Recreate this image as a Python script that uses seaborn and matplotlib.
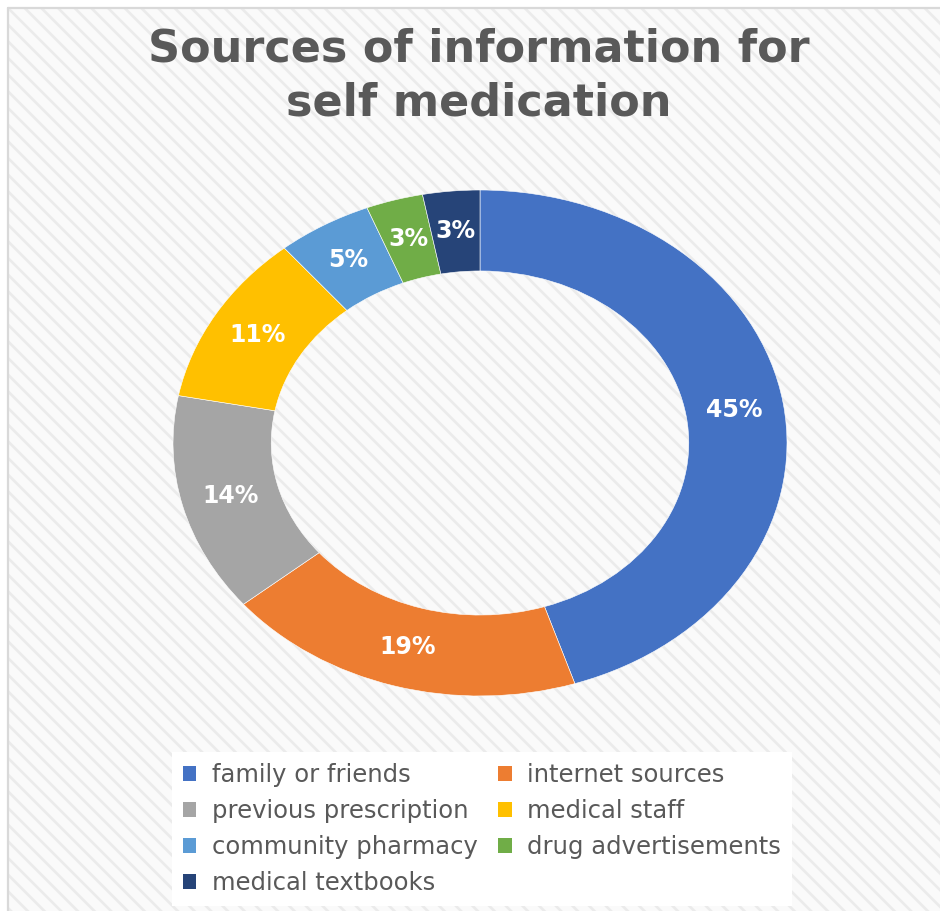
import matplotlib
matplotlib.use("Agg")
import matplotlib.pyplot as plt
from matplotlib.patches import Rectangle, Patch
from matplotlib.lines import Line2D
import seaborn as sns

# Data
sources = ["family or friends", "internet sources", "previous prescription",
           "medical staff", "community pharmacy", "drug advertisements",
           "medical textbooks"]
shares = [45, 19, 14, 11, 5, 3, 3]
slice_colors = ["#4472C4", "#ED7D31", "#A5A5A5", "#FFC000",
                "#5B9BD5", "#70AD47", "#264478"]
title = "Sources of information for\nself medication"

sns.set_theme(style="white")
plt.rcParams["font.family"] = ["DejaVu Sans"]
plt.rcParams["hatch.linewidth"] = 1.9

W, H = 940, 911
fig = plt.figure(figsize=(W / 100, H / 100), dpi=100, facecolor="white")

# Striped chart-area background with a light border on the top/left edges
bx, by = 8 / W, 8 / H
bg = Rectangle((bx, 0), 1 - bx, 1 - by, transform=fig.transFigure,
               facecolor="#fafafa", edgecolor="#ebebeb", hatch="\\\\",
               linewidth=0, zorder=-10)
fig.patches.append(bg)
fig.lines.append(Line2D([bx, bx], [0, 1 - by], transform=fig.transFigure,
                        color="#d9d9d9", linewidth=1.6, zorder=-9))
fig.lines.append(Line2D([bx, 1], [1 - by, 1 - by], transform=fig.transFigure,
                        color="#d9d9d9", linewidth=1.6, zorder=-9))

# Donut
cx, cy, rx, ry = 480, 443, 307, 253
ax = fig.add_axes([(cx - rx) / W, (H - (cy + ry)) / H, 2 * rx / W, 2 * ry / H],
                  zorder=1)
ax.patch.set_alpha(0)
palette = sns.color_palette(slice_colors)
wedges, _, autotexts = ax.pie(
    shares, colors=palette, startangle=90, counterclock=False, radius=1,
    autopct=lambda p: f"{p:.0f}%", pctdistance=0.84,
    wedgeprops=dict(width=0.32, edgecolor="white", linewidth=0.4),
    textprops=dict(color="white", fontsize=17, fontweight="bold"))
ax.set_aspect("auto")
ax.set_xlim(-1, 1)
ax.set_ylim(-1, 1)
ax.axis("off")

# Title
fig.text(479 / W, 1 - 76 / H, title, ha="center", va="center",
         fontsize=32, fontweight="bold", color="#595959", linespacing=1.3)

# Legend, filled row by row across two columns
order = [0, 2, 4, 6, 1, 3, 5]
handles = [Patch(facecolor=slice_colors[i], edgecolor="none") for i in order]
labels = [sources[i] for i in order]
leg = fig.legend(handles, labels, ncol=2, loc="upper center",
                 bbox_to_anchor=(482 / W, 1 - 752 / H), borderaxespad=0,
                 frameon=True, fancybox=False, facecolor="white",
                 edgecolor="none", framealpha=1, fontsize=17.5,
                 handlelength=0.55, handleheight=0.55, handletextpad=0.65,
                 columnspacing=0.85, labelspacing=0.5, borderpad=0.45)
for t in leg.get_texts():
    t.set_color("#595959")

fig.savefig("out.png", dpi=100, facecolor="white")
